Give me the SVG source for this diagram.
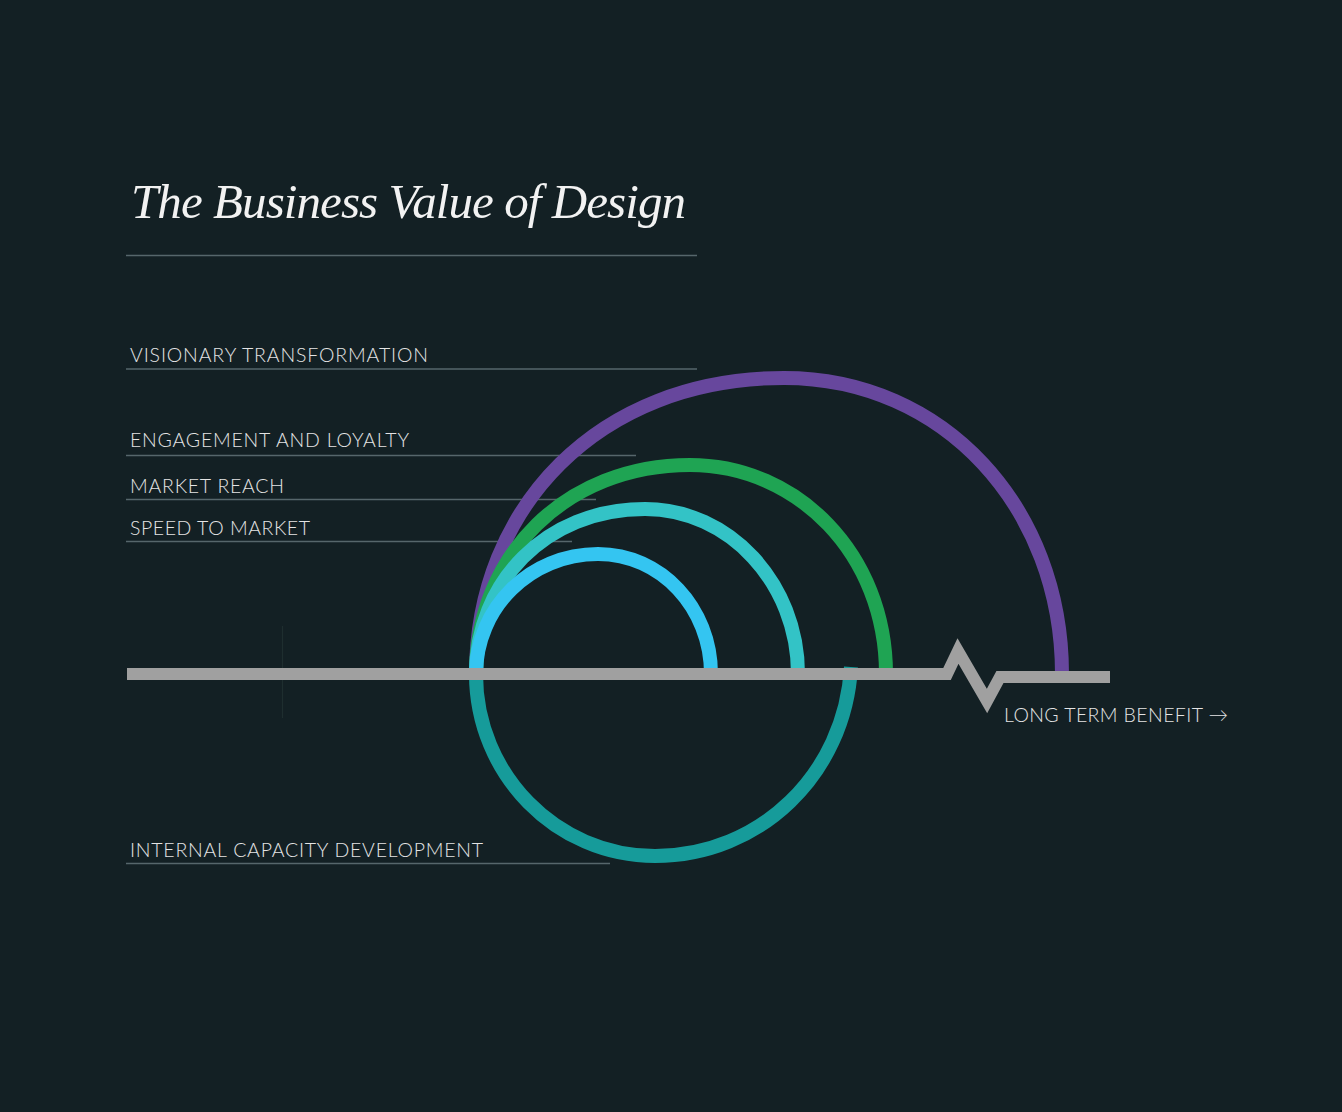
<svg xmlns="http://www.w3.org/2000/svg" width="1342" height="1112" viewBox="0 0 1342 1112">
<style>
.lbl{font-family:Lato,"Open Sans","Liberation Sans",sans-serif;font-weight:300;font-size:19.5px;fill:#e4e4e4}
.rule{stroke:#56666b;stroke-width:1.6;fill:none}
.arc{fill:none;stroke-width:14;stroke-linecap:butt}
</style>
<rect width="1342" height="1112" fill="#132024"/>
<g id="title">
<text x="131" y="218" font-family="'Liberation Serif',serif" font-style="italic" font-size="49" fill="#f2f2f2" textLength="555">The Business Value of Design</text>
<line class="rule" x1="126" y1="255.5" x2="697" y2="255.5"/>
</g>
<g id="label-visionary">
<text class="lbl" x="130" y="362" textLength="298">VISIONARY TRANSFORMATION</text>
<line class="rule" x1="126" y1="369" x2="697" y2="369"/>
</g>
<g id="label-engagement">
<text class="lbl" x="130" y="447" textLength="279">ENGAGEMENT AND LOYALTY</text>
<line class="rule" x1="126" y1="455.5" x2="636" y2="455.5"/>
</g>
<g id="label-market-reach">
<text class="lbl" x="130" y="493" textLength="154">MARKET REACH</text>
<line class="rule" x1="126" y1="499.5" x2="596" y2="499.5"/>
</g>
<g id="label-speed">
<text class="lbl" x="130" y="534.5" textLength="180">SPEED TO MARKET</text>
<line class="rule" x1="126" y1="541.5" x2="572" y2="541.5"/>
</g>
<g id="label-internal">
<text class="lbl" x="130" y="856.5" textLength="353">INTERNAL CAPACITY DEVELOPMENT</text>
<line class="rule" x1="126" y1="863.5" x2="610" y2="863.5"/>
</g>
<line x1="282.5" y1="626" x2="282.5" y2="718" stroke="#1e2e2f" stroke-width="1.2"/>
<g id="connectors">
<path id="arc-visionary" class="arc" stroke="#67479d" d="M476,674 C476,508 598,378 784,378 C944,378 1062,508 1062,674"/>
<path id="arc-engagement" class="arc" stroke="#1fa453" d="M476,674 C476,554 567,465 690,465 C797,465 886,554 886,674"/>
<path id="arc-market-reach" class="arc" stroke="#33c3c6" d="M476,674 C476,583 545,509 645,509 C729,509 798,583 798,674"/>
<path id="arc-speed" class="arc" stroke="#34c5f1" d="M476,674 C476,608 530,554 598,554 C661,554 711,608 711,674"/>
<path id="arc-internal" class="arc" stroke="#169b9a" d="M476,674 C476,774 556,856 655,856 C760,856 845,774 851,667"/>
</g>
<g id="axis">
<polyline points="127,674 947,674 958,651 987,701 1000,677 1110,677" fill="none" stroke="#a0a0a0" stroke-width="12" stroke-linejoin="miter" stroke-miterlimit="10"/>
<text class="lbl" x="1004" y="722" textLength="224">LONG TERM BENEFIT →</text>
</g>
</svg>
